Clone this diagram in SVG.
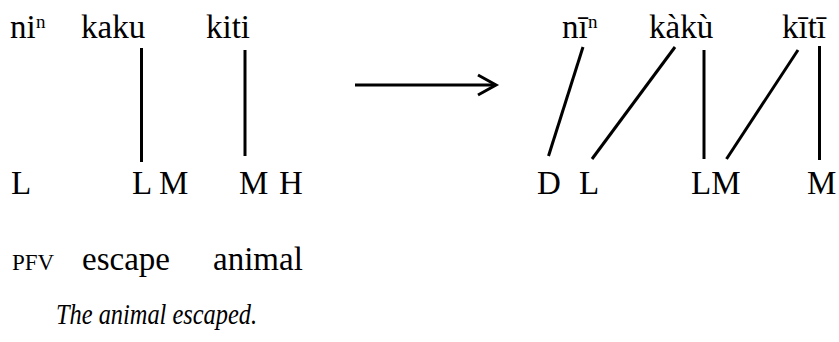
<svg xmlns="http://www.w3.org/2000/svg" width="839" height="342" viewBox="0 0 839 342">
<style>
text { font-family: "Liberation Serif", "Times New Roman", serif; fill: #000; }
.w { font-size: 33px; }
.sup { font-size: 19px; }
.sc { font-size: 23px; }
.it { font-size: 30px; font-style: italic; }
line { stroke: #000; stroke-width: 3; stroke-linecap: butt; }
</style>
<rect width="839" height="342" fill="#fff"/>
<g id="left-words">
<text class="w" x="10" y="38">ni</text><text class="sup" x="36" y="28">n</text>
<text class="w" x="81" y="38">kaku</text>
<text class="w" x="206" y="38">kiti</text>
</g>
<g id="left-tones">
<text class="w" x="11" y="194">L</text>
<text class="w" x="132" y="194">L</text>
<text class="w" x="159" y="194">M</text>
<text class="w" x="239" y="194">M</text>
<text class="w" x="279" y="194">H</text>
</g>
<g id="gloss">
<text class="sc" x="12" y="270">PFV</text>
<text class="w" x="82" y="270">escape</text>
<text class="w" x="213" y="270">animal</text>
</g>
<g id="translation">
<text class="it" x="56" y="324" textLength="201" lengthAdjust="spacingAndGlyphs">The animal escaped.</text>
</g>
<g id="right-words">
<text class="w" x="562" y="38">nī</text><text class="sup" x="588" y="28">n</text>
<text class="w" x="649" y="38">kàkù</text>
<text class="w" x="782" y="38">kītī</text>
</g>
<g id="right-tones">
<text class="w" x="537" y="194">D</text>
<text class="w" x="579" y="194">L</text>
<text class="w" x="691" y="194">LM</text>
<text class="w" x="807" y="194">M</text>
</g>
<g id="connectors">
<line x1="141.5" y1="48" x2="141.5" y2="162"/>
<line x1="245" y1="50" x2="245" y2="156"/>
<line x1="583" y1="47" x2="548.5" y2="156"/>
<line x1="675" y1="47" x2="592" y2="159"/>
<line x1="704" y1="50" x2="704" y2="159"/>
<line x1="798" y1="50" x2="726.5" y2="159"/>
<line x1="819.5" y1="46" x2="819.5" y2="160"/>
<line x1="355" y1="85" x2="495" y2="85"/>
<polyline points="478,75 496,85 478,95" fill="none" stroke="#000" stroke-width="3"/>
</g>
</svg>
